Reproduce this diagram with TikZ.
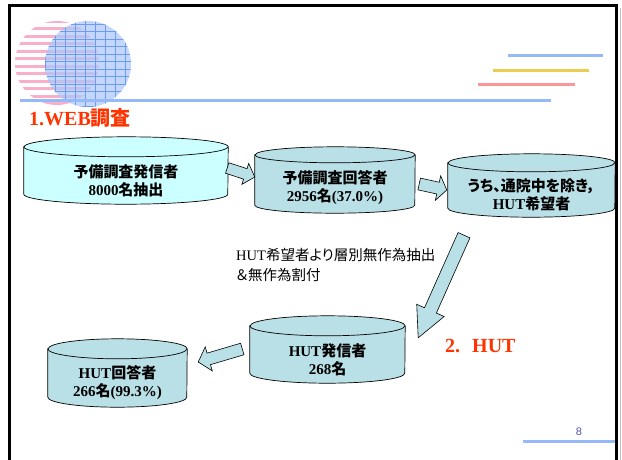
\documentclass[tikz,border=0pt]{standalone}
\usepackage{fontspec}
\setmainfont{Liberation Serif}
\newfontfamily\jp{Noto Sans CJK JP}[RawFeature=+palt]
\newfontfamily\pgfont{Liberation Sans}
\usetikzlibrary{calc,backgrounds}

\definecolor{drumpale}{RGB}{204,255,255}
\definecolor{drumteal}{RGB}{185,224,230}
\definecolor{titlered}{RGB}{255,51,0}
\definecolor{ruleblue}{RGB}{150,185,250}
\definecolor{ruleyellow}{RGB}{235,205,80}
\definecolor{rulepink}{RGB}{250,150,150}
\definecolor{stripepink}{RGB}{250,175,200}
\definecolor{discblue}{RGB}{170,198,252}
\definecolor{gridblue}{RGB}{110,155,240}
\definecolor{pagecol}{RGB}{85,85,170}

\tikzset{
  drum/.style={inner sep=0pt, align=center, font=\bfseries\fontsize{15}{18}\selectfont},
  drumline/.style={draw=black, line width=0.7pt},
  barrow/.style={draw=black, fill=drumteal, line width=0.6pt, line join=miter},
  titletext/.style={inner sep=0pt, anchor=west, text=titlered, font=\bfseries\fontsize{20}{22}\selectfont},
  notetext/.style={inner sep=0pt, anchor=west, align=left, font=\fontsize{14.5}{20}\selectfont},
  rule/.style={line width=3pt}
}

% cylinder round a text node: node, x radius, y radius, fill
\newcommand{\drum}[4]{%
  \filldraw[drumline, fill=#4] ([yshift=#3pt]#1.north west) -- ([yshift=#3pt]#1.south west)
    arc[start angle=180, end angle=360, x radius=#2pt, y radius=#3pt]
    -- ([yshift=#3pt]#1.north east)
    arc[start angle=0, end angle=180, x radius=#2pt, y radius=#3pt] -- cycle;
  \draw[drumline] ([yshift=#3pt]#1.north west)
    arc[start angle=180, end angle=360, x radius=#2pt, y radius=#3pt];}

% fat arrow: tail, tip, shaft half width, head half width, head length
\newcommand{\blockarrow}[5]{%
  \path[barrow] let \p1=(#1), \p2=(#2),
    \n1={atan2(\y2-\y1,\x2-\x1)}, \n2={veclen(\x2-\x1,\y2-\y1)} in
    [shift={(\p1)}, rotate=\n1]
    (0pt,-#3pt) -- ({\n2-#5pt},-#3pt) -- ({\n2-#5pt},-#4pt) -- ({\n2+0pt},0pt)
    -- ({\n2-#5pt},#4pt) -- ({\n2-#5pt},#3pt) -- (0pt,#3pt) -- cycle;}

\begin{document}
\begin{tikzpicture}[x=1pt,y=-1pt]
\useasboundingbox (0,0) rectangle (622,459);

% logo discs
\begin{scope}
  \clip (57,63) circle[radius=42pt];
  \foreach \y in {21,28.5,...,106}
    \draw[stripepink, line width=3pt] (10,\y) -- (110,\y);
\end{scope}
\fill[discblue, opacity=0.7] (88,64) circle[radius=43pt];
\begin{scope}
  \clip (88,64) circle[radius=43pt];
  \foreach \x in {45.7,55.7,...,135}
    \draw[gridblue, line width=0.6pt] (\x,15) -- (\x,110);
  \foreach \y in {24,31.5,...,110}
    \draw[gridblue, line width=0.6pt] (40,\y) -- (135,\y);
\end{scope}

\draw[rule, ruleblue] (20,100) -- (551,100);
\draw[rule, ruleblue] (508,55.5) -- (603,55.5);
\draw[rule, ruleyellow] (493,70.5) -- (589,70.5);
\draw[rule, rulepink] (478,84.5) -- (575,84.5);

\node[titletext] (webtitle) at (29,118) {1.WEB{\jp 調査}};

\node[drum, minimum width=204pt, minimum height=47pt] (send) at (126,180.5)
  {{\jp 予備調査発信者}\\8000{\jp 名抽出}};
\node[drum, minimum width=160pt, minimum height=50pt] (reply) at (335,188)
  {{\jp 予備調査回答者}\\2956{\jp 名}(37.0\%)};
\node[drum, minimum width=167pt, minimum height=45pt] (wish) at (531.5,194.5)
  {{\jp うち、通院中を除き，}\\HUT{\jp 希望者}};
\node[drum, minimum width=155pt, minimum height=47pt] (hutsend) at (327.5,359.5)
  {HUT{\jp 発信者}\\268{\jp 名}};
\node[drum, minimum width=139pt, minimum height=48pt] (hutreply) at (117.5,383)
  {HUT{\jp 回答者}\\266{\jp 名}(99.3\%)};

\begin{scope}[on background layer]
  \drum{send}{102}{10}{drumpale}
  \drum{reply}{80}{8}{drumteal}
  \drum{wish}{83.5}{9}{drumteal}
  \drum{hutsend}{77.5}{10}{drumteal}
  \drum{hutreply}{69.5}{10}{drumteal}
\end{scope}

\blockarrow{[shift={(-1,-12.5)}]send.east}{[shift={(0,-11)}]reply.west}{5.5}{11}{10}
\blockarrow{[shift={(4,-4)}]reply.east}{[shift={(-1,-4.5)}]wish.west}{6}{12.5}{9}
\blockarrow{[shift={(-67.5,18)}]wish.south}{[shift={(13,2)}]hutsend.north east}{6.5}{15}{30}
\blockarrow{[shift={(-7.5,-10.5)}]hutsend.west}{[shift={(11,-21)}]hutreply.east}{6}{12.5}{11}

\node[notetext] (note) at (236,265)
  {HUT{\jp 希望者より層別無作為抽出}\\{\jp ＆無作為割付}};
\node[titletext] (huttitle) at (445,346) {2.\hspace{0.6em}HUT};

\draw[rule, ruleblue] (523,441.5) -- (616,441.5);
\node[inner sep=0pt, text=pagecol, font=\pgfont\fontsize{11}{13}\selectfont] (pageno) at (579,432) {8};

% slide frame
\draw[gray!50, line width=1pt] (620,8) -- (620,470);
\draw[line width=3pt] (9.5,470) |- (616.5,5.5) -- (616.5,470);
\end{tikzpicture}
\end{document}
